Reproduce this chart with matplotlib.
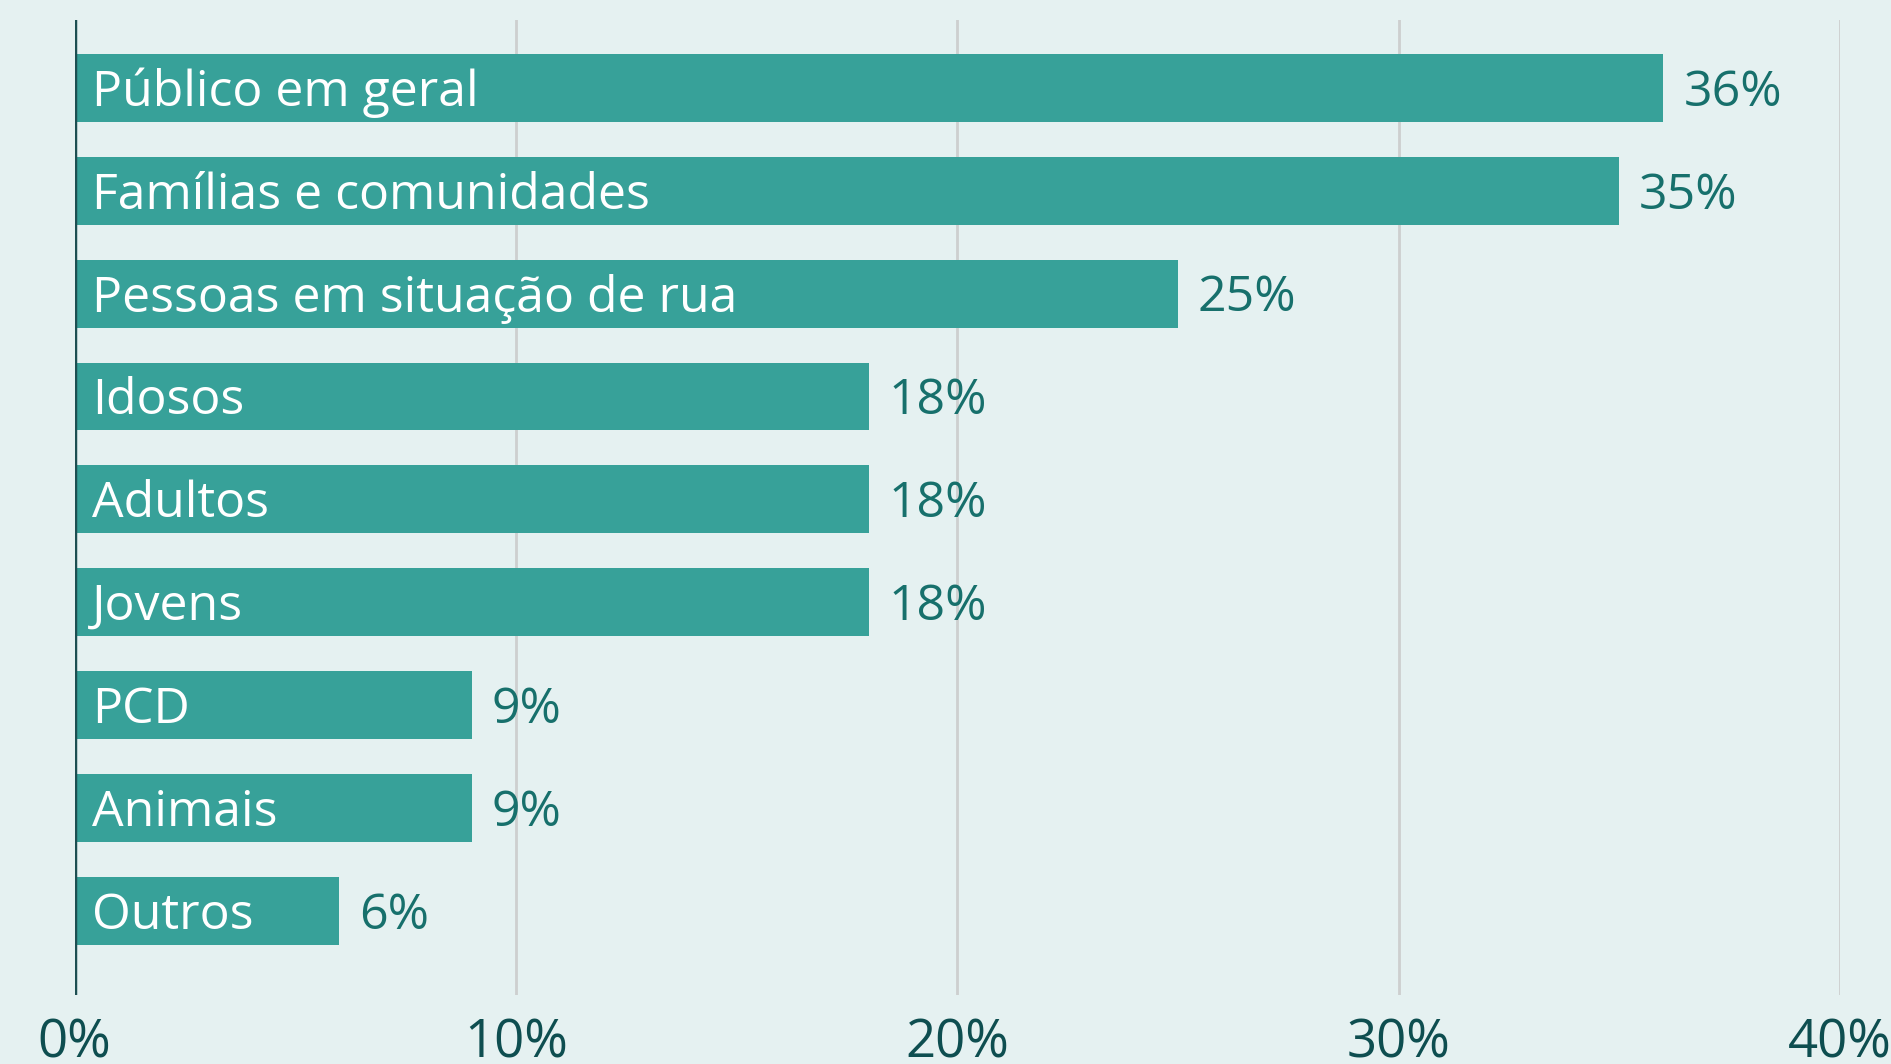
import matplotlib
matplotlib.use("Agg")
import matplotlib.pyplot as plt

categories = ["Público em geral", "Famílias e comunidades", "Pessoas em situação de rua",
              "Idosos", "Adultos", "Jovens", "PCD", "Animais", "Outros"]
values = [36, 35, 25, 18, 18, 18, 9, 9, 6]
xticks = [0, 10, 20, 30, 40]
xtick_labels = ["0%", "10%", "20%", "30%", "40%"]

BG = "#E5F1F1"
BAR = "#37A199"
VAL = "#17706C"
TICK = "#0E4E50"
FONT = ["Open Sans", "DejaVu Sans"]

fig = plt.figure(figsize=(18.91, 10.64), dpi=100, facecolor=BG)
ax = fig.add_axes([0.0394, 0.0648, 0.9336, 0.9164], facecolor=BG)

pos = list(range(len(categories)))
ax.barh(pos, values, height=0.66, color=BAR, zorder=3)
ax.set_ylim(8.82, -0.66)
ax.set_xlim(0, 40)

for x in xticks[1:]:
    ax.axvline(x, color="#CDCFCF", lw=2, zorder=1)
ax.axvline(0, color="#1D4F52", lw=2.5, zorder=4)

for p, c, v in zip(pos, categories, values):
    ax.text(0.4, p + 0.05, c, color="white", fontsize=36, va="center", ha="left",
            family=FONT, zorder=5)
    ax.text(v + 0.45, p + 0.05, f"{v}%", color=VAL, fontsize=36, va="center", ha="left",
            family=FONT, zorder=5)

for s in ax.spines.values():
    s.set_visible(False)
ax.set_yticks([])
ax.set_xticks(xticks)
ax.set_xticklabels(xtick_labels, family=FONT, fontsize=38, color=TICK)
ax.tick_params(axis="x", length=0, pad=16)

fig.savefig("out.png", dpi=100, facecolor=BG)
